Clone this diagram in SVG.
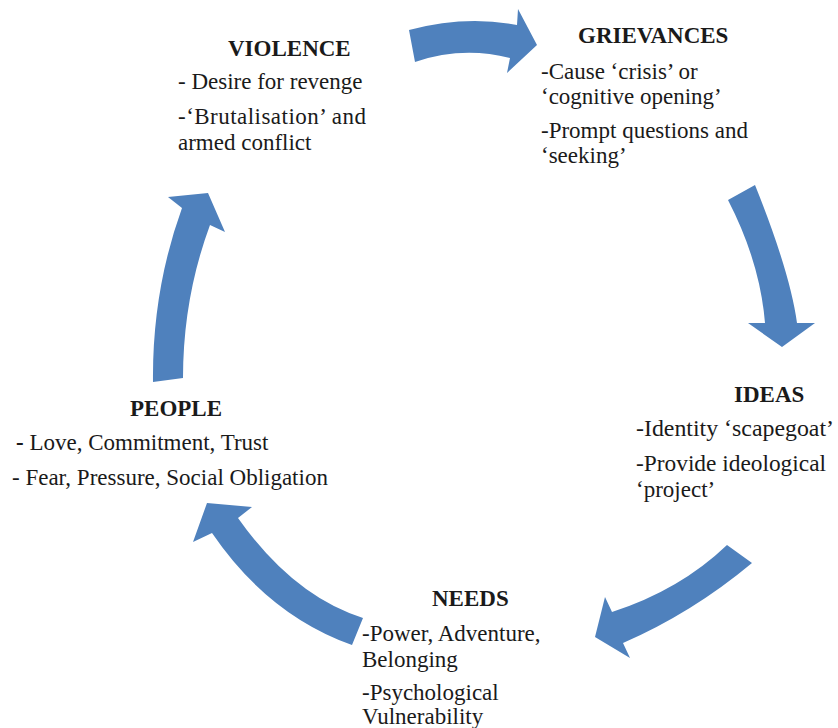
<svg xmlns="http://www.w3.org/2000/svg" width="838" height="728" viewBox="0 0 838 728">
<rect width="838" height="728" fill="#fff"/>
<g id="connectors" fill="#4f81bd">
<path d="M409,30 Q465,15 517,25 L518,9 L537,45 L507,73 L510,58 Q462,46 415,62 Z"/>
<path d="M728,200 L755,185 Q790,272 797,323 L815,323 L782,347 L748,323 L765,323 Q760,262 728,200 Z"/>
<path d="M727,545 L752,563 Q692,613 623,643 L630,658 L595,637 L605,597 L612,612 Q680,590 727,545 Z"/>
<path d="M363,618 Q293,596 238,518 L252,507 L207,503 L193,542 L212,533 Q268,615 352,645 Z"/>
<path d="M153,382 Q152,291 182,208 L168,197 L208,193 L225,232 L210,225 Q183,298 183,378 Z"/>
</g>
<g font-family="'Liberation Serif', serif" font-size="23" fill="#1a1a1a">
<g id="violence">
<text x="228" y="56" font-weight="bold">VIOLENCE</text>
<text x="178" y="89">- Desire for revenge</text>
<text x="178" y="124" textLength="188" lengthAdjust="spacing">-‘Brutalisation’ and</text>
<text x="178" y="150">armed conflict</text>
</g>
<g id="grievances">
<text x="578" y="43" font-weight="bold">GRIEVANCES</text>
<text x="541" y="79">-Cause ‘crisis’ or</text>
<text x="541" y="104">‘cognitive opening’</text>
<text x="541" y="138">-Prompt questions and</text>
<text x="541" y="163">‘seeking’</text>
</g>
<g id="ideas">
<text x="734" y="402" font-weight="bold">IDEAS</text>
<text x="636" y="436" textLength="198" lengthAdjust="spacingAndGlyphs">-Identity ‘scapegoat’</text>
<text x="636" y="471" textLength="190" lengthAdjust="spacingAndGlyphs">-Provide ideological</text>
<text x="636" y="497">‘project’</text>
</g>
<g id="needs">
<text x="432" y="606" font-weight="bold">NEEDS</text>
<text x="362" y="641">-Power, Adventure,</text>
<text x="362" y="667">Belonging</text>
<text x="362" y="700">-Psychological</text>
<text x="362" y="724">Vulnerability</text>
</g>
<g id="people">
<text x="130" y="416" font-weight="bold">PEOPLE</text>
<text x="16" y="450"><tspan font-weight="bold">-</tspan> Love, Commitment, Trust</text>
<text x="12" y="485">- Fear, Pressure, Social Obligation</text>
</g>
</g>
</svg>
